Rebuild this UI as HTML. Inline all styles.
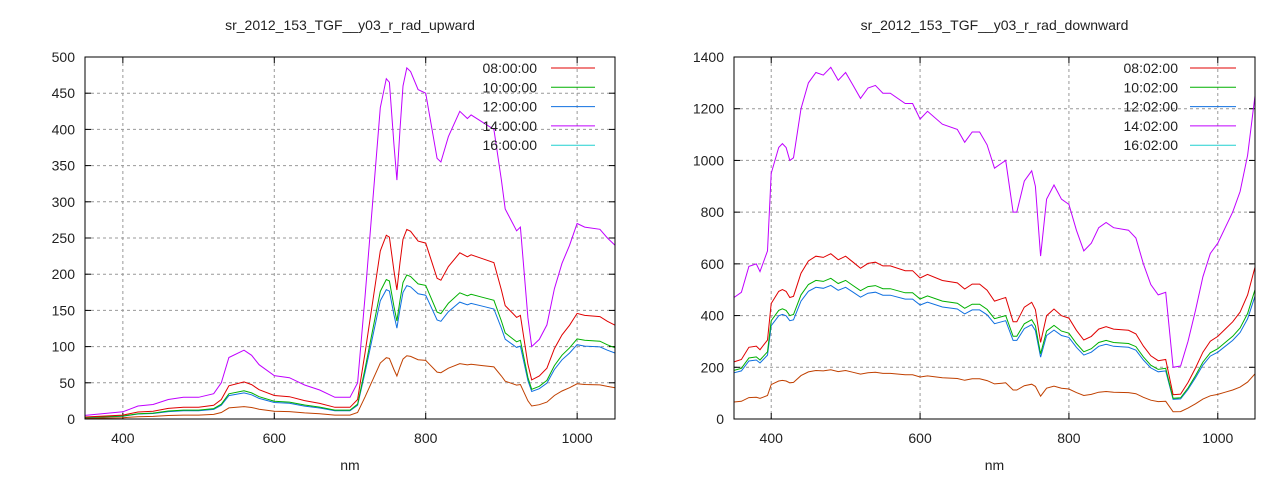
<!DOCTYPE html>
<html><head><meta charset="utf-8"><style>
body{margin:0;background:#fff}
svg text{font-family:"Liberation Sans",sans-serif;font-size:14px;fill:#222}
</style></head><body>
<svg id="s" width="1280" height="480" xmlns="http://www.w3.org/2000/svg"></svg>
<script>
const s=document.getElementById('s');let h='';
function chart(x0,x1,y0,y1,ymax,ystep,title,labels,purple,fac,tx,lx1,lx2){
  const X=v=>x0+(v-350)/700*(x1-x0), Y=v=>y1-v/ymax*(y1-y0);
  h+=`<text x="${(x0+x1)/2}" y="30" text-anchor="middle">${title}</text>`;
  for(let v=400;v<=1000;v+=200){const x=X(v);
    h+=`<line x1="${x}" y1="${y0}" x2="${x}" y2="${y1}" stroke="#999" stroke-dasharray="3,3"/>`;
    h+=`<line x1="${x}" y1="${y1}" x2="${x}" y2="${y1-6}" stroke="#000"/><line x1="${x}" y1="${y0}" x2="${x}" y2="${y0+6}" stroke="#000"/>`;
    h+=`<text x="${x}" y="${y1+24}" text-anchor="middle">${v}</text>`;}
  for(let v=0;v<=ymax;v+=ystep){const y=Y(v);
    if(v>0&&v<ymax)h+=`<line x1="${x0}" y1="${y}" x2="${x1}" y2="${y}" stroke="#999" stroke-dasharray="3,3"/>`;
    h+=`<line x1="${x0}" y1="${y}" x2="${x0+6}" y2="${y}" stroke="#000"/><line x1="${x1}" y1="${y}" x2="${x1-6}" y2="${y}" stroke="#000"/>`;
    h+=`<text x="${x0-10}" y="${y+5}" text-anchor="end">${v}</text>`;}
  h+=`<text x="${(x0+x1)/2}" y="470" text-anchor="middle">nm</text>`;
  const cols=['#e00000','#00b000','#1070e0','#c000ff','#20d0d0'];
  const lcols=['#e00000','#00b000','#1070e0','#c000ff','#c04000'];
  const order=[4,2,1,0,3];
  for(const k of order){
    const f=fac[k];let pts=[];
    for(let i=0;i<purple.length;i+=2){pts.push(X(purple[i]).toFixed(1)+','+Y(purple[i+1]*f).toFixed(1));}
    h+=`<polyline points="${pts.join(' ')}" fill="none" stroke="${lcols[k]}" stroke-width="1"/>`;
  }
  labels.forEach((l,i)=>{const y=68+i*19.3;
    h+=`<text x="${tx}" y="${y+5}" text-anchor="end">${l}</text>`;
    h+=`<line x1="${lx1}" y1="${y}" x2="${lx2}" y2="${y}" stroke="${cols[i]}"/>`;});
  h+=`<rect x="${x0}" y="${y0}" width="${x1-x0}" height="${y1-y0}" fill="none" stroke="#000"/>`;
}
const pL=[350,5,400,10,420,18,440,20,460,27,480,30,500,30,520,35,530,50,540,85,560,95,570,88,580,75,600,60,620,57,640,47,660,40,680,30,700,30,710,50,720,170,730,300,740,430,748,470,752,465,758,380,762,330,766,400,770,460,775,485,780,480,790,455,800,450,805,420,815,360,820,355,830,390,845,425,855,415,860,420,875,410,890,400,900,330,905,290,915,270,920,260,925,265,935,140,940,100,950,110,960,130,970,180,980,215,990,240,1000,270,1010,265,1030,262,1040,250,1050,240];
const pR=[350,470,360,490,370,590,380,600,385,570,395,650,400,950,410,1050,415,1065,420,1050,425,1000,430,1010,440,1200,450,1300,460,1340,470,1330,480,1360,490,1310,500,1340,510,1290,520,1240,530,1280,540,1290,550,1260,560,1260,580,1220,590,1220,600,1160,610,1190,630,1140,650,1120,660,1070,670,1110,680,1110,690,1060,700,970,710,990,715,1000,725,800,730,800,740,920,750,960,755,900,762,630,770,850,780,905,790,850,800,830,810,730,820,650,830,680,840,740,850,760,860,740,880,730,890,700,900,600,910,520,920,480,930,490,940,200,950,205,960,300,970,420,980,550,990,640,1000,680,1010,740,1020,800,1030,880,1040,1020,1050,1250];
chart(85,615,57,419,500,50,'sr_2012_153_TGF__y03_r_rad_upward',['08:00:00','10:00:00','12:00:00','14:00:00','16:00:00'],pL,[0.54,0.41,0.38,1,0.18],537,551,595);
chart(734,1255,57,419,1400,200,'sr_2012_153_TGF__y03_r_rad_downward',['08:02:00','10:02:00','12:02:00','14:02:00','16:02:00'],pR,[0.47,0.4,0.38,1,0.14],1178,1190,1236);
s.innerHTML=h;
</script>
</body></html>
